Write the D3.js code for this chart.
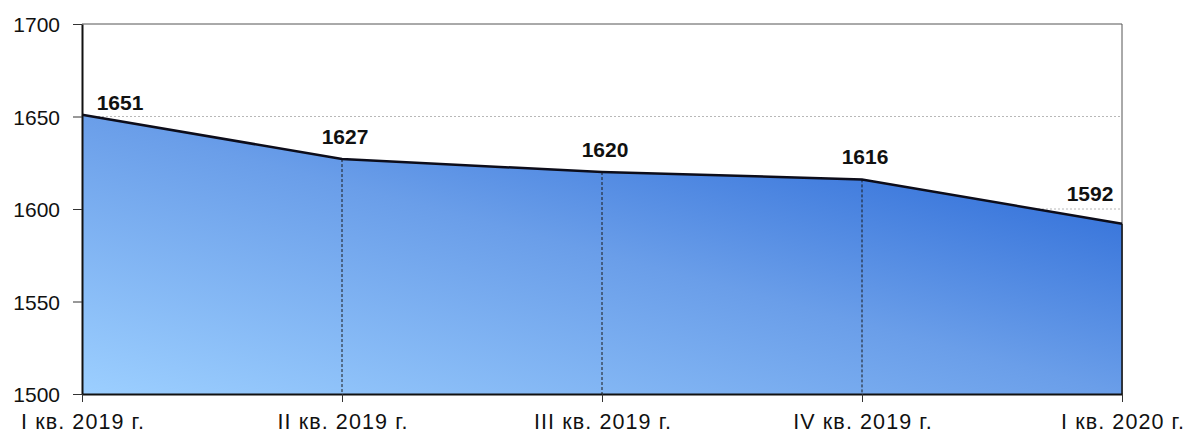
<!DOCTYPE html>
<html>
<head>
<meta charset="utf-8">
<script src="https://cdn.jsdelivr.net/npm/d3@7"></script>
<style>
  body { margin: 0; background: #fff; }
  svg { display: block; font-family: "Liberation Sans", Arial, sans-serif; }
</style>
</head>
<body>
<svg id="chart" width="1185" height="435"></svg>
<script>
// data
var quarters = ["I кв. 2019 г.", "II кв. 2019 г.", "III кв. 2019 г.", "IV кв. 2019 г.", "I кв. 2020 г."];
var values = [1651, 1627, 1620, 1616, 1592];
var yTicks = [1500, 1550, 1600, 1650, 1700];

var svg = d3.select("#chart");
var margin = { top: 24, right: 63, bottom: 41, left: 82 },
    width = 1185 - margin.left - margin.right,
    height = 435 - margin.top - margin.bottom;

var x = d3.scalePoint().domain(quarters).range([0, width]);
var y = d3.scaleLinear().domain([1500, 1700]).range([height, 0]);

var data = quarters.map(function (q, i) { return { q: q, v: values[i] }; });

var defs = svg.append("defs");
var grad = defs.append("linearGradient")
    .attr("id", "areaGrad")
    .attr("x1", "0%").attr("y1", "100%")
    .attr("x2", "100%").attr("y2", "0%");
grad.append("stop").attr("offset", "0%").attr("stop-color", "#9ccfff");
grad.append("stop").attr("offset", "50%").attr("stop-color", "#6a9ee9");
grad.append("stop").attr("offset", "80%").attr("stop-color", "#3c78dc");
grad.append("stop").attr("offset", "100%").attr("stop-color", "#2a66d0");

var g = svg.append("g")
    .attr("transform", "translate(" + margin.left + "," + margin.top + ")");

// dashed gridlines
g.selectAll(".grid")
    .data(yTicks.filter(function (t) { return t > 1500 && t < 1700; }))
    .enter().append("line")
    .attr("x1", 0).attr("x2", width)
    .attr("y1", function (d) { return y(d); })
    .attr("y2", function (d) { return y(d); })
    .attr("stroke", "#b8b8b8")
    .attr("stroke-dasharray", "2,2");

// top and right border
g.append("line").attr("x1", 0).attr("x2", width).attr("y1", 0).attr("y2", 0)
    .attr("stroke", "#555").attr("stroke-width", 1);
g.append("line").attr("x1", width).attr("x2", width).attr("y1", 0).attr("y2", height)
    .attr("stroke", "#555").attr("stroke-width", 1);

// area
var area = d3.area()
    .x(function (d) { return x(d.q); })
    .y0(height)
    .y1(function (d) { return y(d.v); });

g.append("path")
    .datum(data)
    .attr("d", area)
    .attr("fill", "url(#areaGrad)");

// drop lines
g.selectAll(".drop")
    .data(data.slice(1, -1))
    .enter().append("line")
    .attr("x1", function (d) { return x(d.q); })
    .attr("x2", function (d) { return x(d.q); })
    .attr("y1", function (d) { return y(d.v); })
    .attr("y2", height)
    .attr("stroke", "#1a1a1a")
    .attr("stroke-dasharray", "3,2");

// right edge of area
g.append("line")
    .attr("x1", width).attr("x2", width)
    .attr("y1", y(values[values.length - 1])).attr("y2", height)
    .attr("stroke", "#111").attr("stroke-width", 1.5);

// outline
var line = d3.line()
    .x(function (d) { return x(d.q); })
    .y(function (d) { return y(d.v); });

g.append("path")
    .datum(data)
    .attr("d", line)
    .attr("fill", "none")
    .attr("stroke", "#0d0d1a")
    .attr("stroke-width", 2.5);

// axes
var yAxis = g.append("g")
    .call(d3.axisLeft(y).tickValues(yTicks).tickFormat(d3.format("d"))
        .tickSize(9).tickSizeOuter(0).tickPadding(13));
var xAxis = g.append("g")
    .attr("transform", "translate(0," + height + ")")
    .call(d3.axisBottom(x).tickSize(8).tickSizeOuter(0).tickPadding(12));

[yAxis, xAxis].forEach(function (ax) {
    ax.select(".domain").attr("stroke", "#111").attr("stroke-width", 2);
    ax.selectAll(".tick line").attr("stroke", "#333");
    ax.selectAll("text").attr("font-size", 21).attr("fill", "#111")
        .attr("font-family", "'Liberation Sans', Arial, sans-serif");
});
yAxis.selectAll("text").attr("dy", "0.36em");
xAxis.selectAll("text").attr("letter-spacing", "1.1px").attr("font-size", 21.5)
    .attr("dx", "0.5px");

// value labels (Excel-like placement above each point)
g.selectAll(".lbl")
    .data(data)
    .enter().append("text")
    .attr("x", function (d, i) {
        if (i === 0) return x(d.q) + 38;
        if (i === data.length - 1) return x(d.q) - 32;
        return x(d.q) + 3;
    })
    .attr("y", function (d, i) {
        if (i === 0) return y(d.v) - 5;
        if (i === data.length - 1) return y(d.v) - 23;
        return y(d.v) - 15;
    })
    .attr("text-anchor", "middle")
    .attr("font-size", 21)
    .attr("font-weight", "bold")
    .attr("fill", "#111")
    .text(function (d) { return d.v; });
</script>
</body>
</html>
